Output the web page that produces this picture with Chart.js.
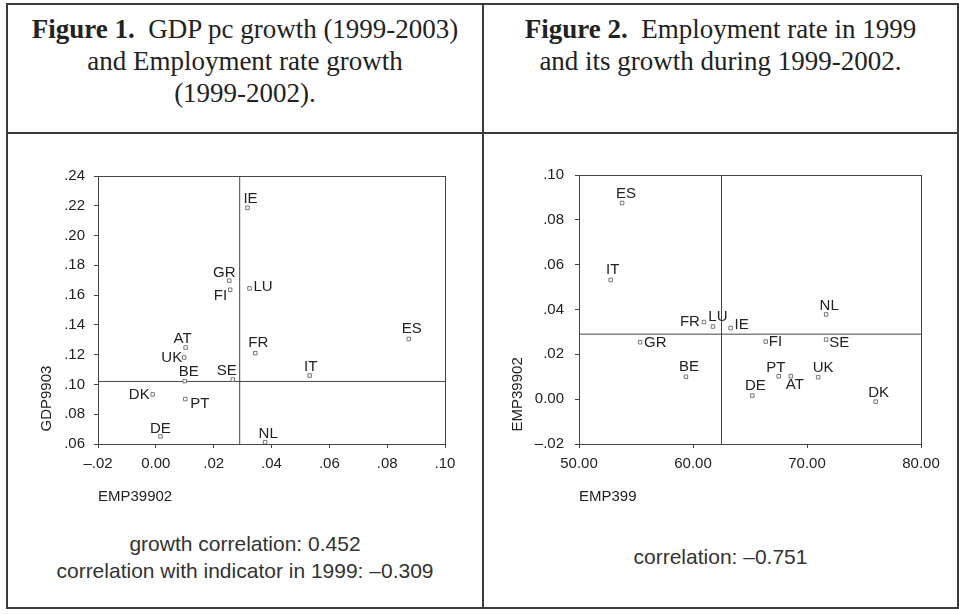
<!DOCTYPE html>
<html>
<head>
<meta charset="utf-8">
<script src="https://cdn.jsdelivr.net/npm/chart.js@4.4.1/dist/chart.umd.min.js"></script>
<style>
  body { margin: 0; background: #fff; }
  #page { position: relative; width: 959px; height: 614px; overflow: hidden; }
  .frame { position: absolute; left: 6px; top: 3px; width: 953px; height: 606px; box-sizing: border-box; border: 2px solid #3a3a3a; }
  .vline { position: absolute; left: 482px; top: 3px; width: 2px; height: 606px; background: #3a3a3a; }
  .hline { position: absolute; left: 6px; top: 132px; width: 953px; height: 2px; background: #3a3a3a; }
  .title { position: absolute; top: 13px; font-family: "Liberation Serif", serif; font-size: 27px; line-height: 32px; text-align: center; color: #222; }
  .note { position: absolute; font-family: "Liberation Sans", Arial, sans-serif; font-size: 21px; line-height: 27px; text-align: center; color: #333; }
  canvas { position: absolute; }
</style>
</head>
<body>
<div id="page">
  <div class="frame"></div>
  <div class="vline"></div>
  <div class="hline"></div>

  <div class="title" style="left:8px; width:474px;"><b>Figure 1.</b>&nbsp;&nbsp;GDP pc growth (1999-2003)<br>and Employment rate growth<br>(1999-2002).</div>
  <div class="title" style="left:484px; width:473px;"><b>Figure 2.</b>&nbsp;&nbsp;Employment rate in 1999<br>and its growth during 1999-2002.</div>

  <canvas id="chart1" width="472" height="380" style="left:8px; top:136px;"></canvas>
  <canvas id="chart2" width="472" height="380" style="left:485px; top:136px;"></canvas>

  <div class="note" style="left:8px; width:474px; top:530px;">growth correlation: 0.452<br>correlation with indicator in 1999: –0.309</div>
  <div class="note" style="left:484px; width:473px; top:543px;">correlation: –0.751</div>
</div>

<script>
const countries = ['AT', 'BE', 'DE', 'DK', 'ES', 'FI', 'FR', 'GR', 'IE', 'IT', 'LU', 'NL', 'PT', 'SE', 'UK']
// employment rate growth 1999-2002
const emp9902 = [0.0103, 0.0100, 0.0016, -0.0011, 0.0875, 0.0257, 0.0344, 0.0254, 0.0317, 0.0532, 0.0324, 0.0378, 0.0102, 0.0266, 0.0098]
// GDP pc growth 1999-2003
const gdp9903 = [0.1248, 0.1022, 0.0651, 0.0933, 0.1306, 0.1636, 0.1210, 0.1697, 0.2186, 0.1060, 0.1645, 0.0611, 0.0902, 0.1033, 0.1181]
// employment rate 1999
const emp99 = [68.58, 59.38, 65.21, 76.02, 53.78, 66.38, 60.96, 55.36, 63.30, 52.78, 61.75, 71.68, 67.52, 71.68, 70.98]

// reference (cross) lines
const empGrowthRef = 0.029
const gdpGrowthRef = 0.102
const empRateRef = 62.5

const xTicks1 = ['–.02', '0.00', '.02', '.04', '.06', '.08', '.10']
const yTicks1 = ['.06', '.08', '.10', '.12', '.14', '.16', '.18', '.20', '.22', '.24']
const xTicks2 = ['50.00', '60.00', '70.00', '80.00']
const yTicks2 = ['–.02', '0.00', '.02', '.04', '.06', '.08', '.10']

// where each country label sits relative to its point: [dx, dy, textAlign]
const labelPos1 = {
  IE: [3, -9, 'center'], GR: [-5, -8, 'center'], FI: [-3, 6, 'right'], LU: [4, -2, 'left'],
  ES: [3, -10, 'center'], AT: [-3, -9, 'center'], FR: [3, -10, 'center'], UK: [-2, 0, 'right'],
  IT: [1, -9, 'center'], SE: [-6, -9, 'center'], BE: [4, -9, 'center'], DK: [-3, 0, 'right'],
  PT: [5, 5, 'left'], DE: [0, -8, 'center'], NL: [3, -9, 'center']
}
const labelPos2 = {
  ES: [4, -9, 'center'], IT: [2, -10, 'center'], NL: [3, -9, 'center'], FR: [-4, 0, 'right'],
  LU: [5, -10, 'center'], IE: [4, -3, 'left'], GR: [4, 1, 'left'], FI: [3, 0, 'left'],
  SE: [3, 3, 'left'], BE: [3, -10, 'center'], PT: [-3, -8, 'center'], AT: [4, 9, 'center'],
  UK: [5, -9, 'center'], DE: [3, -10, 'center'], DK: [3, -9, 'center']
}

Chart.defaults.font.family = '"Liberation Sans", Arial, sans-serif'
Chart.defaults.color = '#222'

// box round the plot area
const plotBox = {
  id: 'plotBox',
  beforeDatasetsDraw(chart) {
    const a = chart.chartArea
    const ctx = chart.ctx
    ctx.save()
    ctx.strokeStyle = '#444'
    ctx.lineWidth = 1
    ctx.strokeRect(Math.round(a.left) + 0.5, Math.round(a.top) + 0.5, Math.round(a.right - a.left), Math.round(a.bottom - a.top))
    ctx.restore()
  }
}

function pointLabels(pos) {
  return {
    id: 'pointLabels',
    afterDatasetsDraw(chart) {
      const ctx = chart.ctx
      const meta = chart.getDatasetMeta(0)
      ctx.save()
      ctx.font = '15px "Liberation Sans", Arial, sans-serif'
      ctx.fillStyle = '#222'
      ctx.textBaseline = 'middle'
      meta.data.forEach((pt, i) => {
        const p = pos[countries[i]]
        ctx.textAlign = p[2]
        ctx.fillText(countries[i], pt.x + p[0], pt.y + p[1])
      })
      ctx.restore()
    }
  }
}

function scatterChart(id, xs, ys, c) {
  const pts = xs.map((x, i) => ({ x: x, y: ys[i] }))
  const tickFont = { size: 15 }
  return new Chart(document.getElementById(id), {
    type: 'scatter',
    data: {
      datasets: [
        {
          data: pts,
          pointStyle: 'rect',
          pointRadius: 2.5,
          borderWidth: 1,
          borderColor: '#777',
          backgroundColor: '#fff'
        },
        {
          data: [{ x: c.xMin, y: c.yRef }, { x: c.xMax, y: c.yRef }],
          showLine: true,
          pointRadius: 0,
          borderColor: '#444',
          borderWidth: 1
        },
        {
          data: [{ x: c.xRef, y: c.yMin }, { x: c.xRef, y: c.yMax }],
          showLine: true,
          pointRadius: 0,
          borderColor: '#444',
          borderWidth: 1
        }
      ]
    },
    options: {
      responsive: false,
      animation: false,
      layout: { padding: c.padding },
      plugins: { legend: { display: false }, tooltip: { enabled: false } },
      scales: {
        x: {
          min: c.xMin, max: c.xMax,
          ticks: { stepSize: c.xStep, autoSkip: false, maxRotation: 0, padding: 7, font: tickFont, color: '#222',
                   callback: (v, i) => c.xLabels[i] },
          grid: { drawOnChartArea: false, tickLength: 4, color: '#444' },
          border: { display: false },
          title: { display: true, text: c.xTitle, align: 'start', font: { size: 15 }, color: '#222', padding: { top: 4, bottom: 10 } },
          afterFit: s => { s.height = 72 }
        },
        y: {
          min: c.yMin, max: c.yMax,
          ticks: { stepSize: c.yStep, autoSkip: false, padding: c.yPad, font: tickFont, color: '#222',
                   callback: (v, i) => c.yLabels[i] },
          grid: { drawOnChartArea: false, tickLength: 4, color: '#444' },
          border: { display: false },
          title: { display: true, text: '   ' + c.yTitle, align: 'start', font: { size: 15 }, color: '#222', padding: 0 },
          afterFit: s => { s.width = c.yWidth }
        }
      }
    },
    plugins: [plotBox, pointLabels(c.labelPos)]
  })
}

// Figure 1
scatterChart('chart1', emp9902, gdp9903, {
  xMin: -0.02, xMax: 0.10, xStep: 0.02, yMin: 0.06, yMax: 0.24, yStep: 0.02,
  xRef: empGrowthRef, yRef: gdpGrowthRef,
  xLabels: xTicks1, yLabels: yTicks1,
  xTitle: 'EMP39902', yTitle: 'GDP9903',
  padding: { left: 30, right: 35, top: 40, bottom: 0 },
  yWidth: 60, yPad: 9,
  labelPos: labelPos1
})

// Figure 2
scatterChart('chart2', emp99, emp9902, {
  xMin: 50, xMax: 80, xStep: 10, yMin: -0.02, yMax: 0.10, yStep: 0.02,
  xRef: empRateRef, yRef: empGrowthRef,
  xLabels: xTicks2, yLabels: yTicks2,
  xTitle: 'EMP399', yTitle: 'EMP39902',
  padding: { left: 24, right: 36, top: 39, bottom: 0 },
  yWidth: 70, yPad: 11,
  labelPos: labelPos2
})
</script>
</body>
</html>
